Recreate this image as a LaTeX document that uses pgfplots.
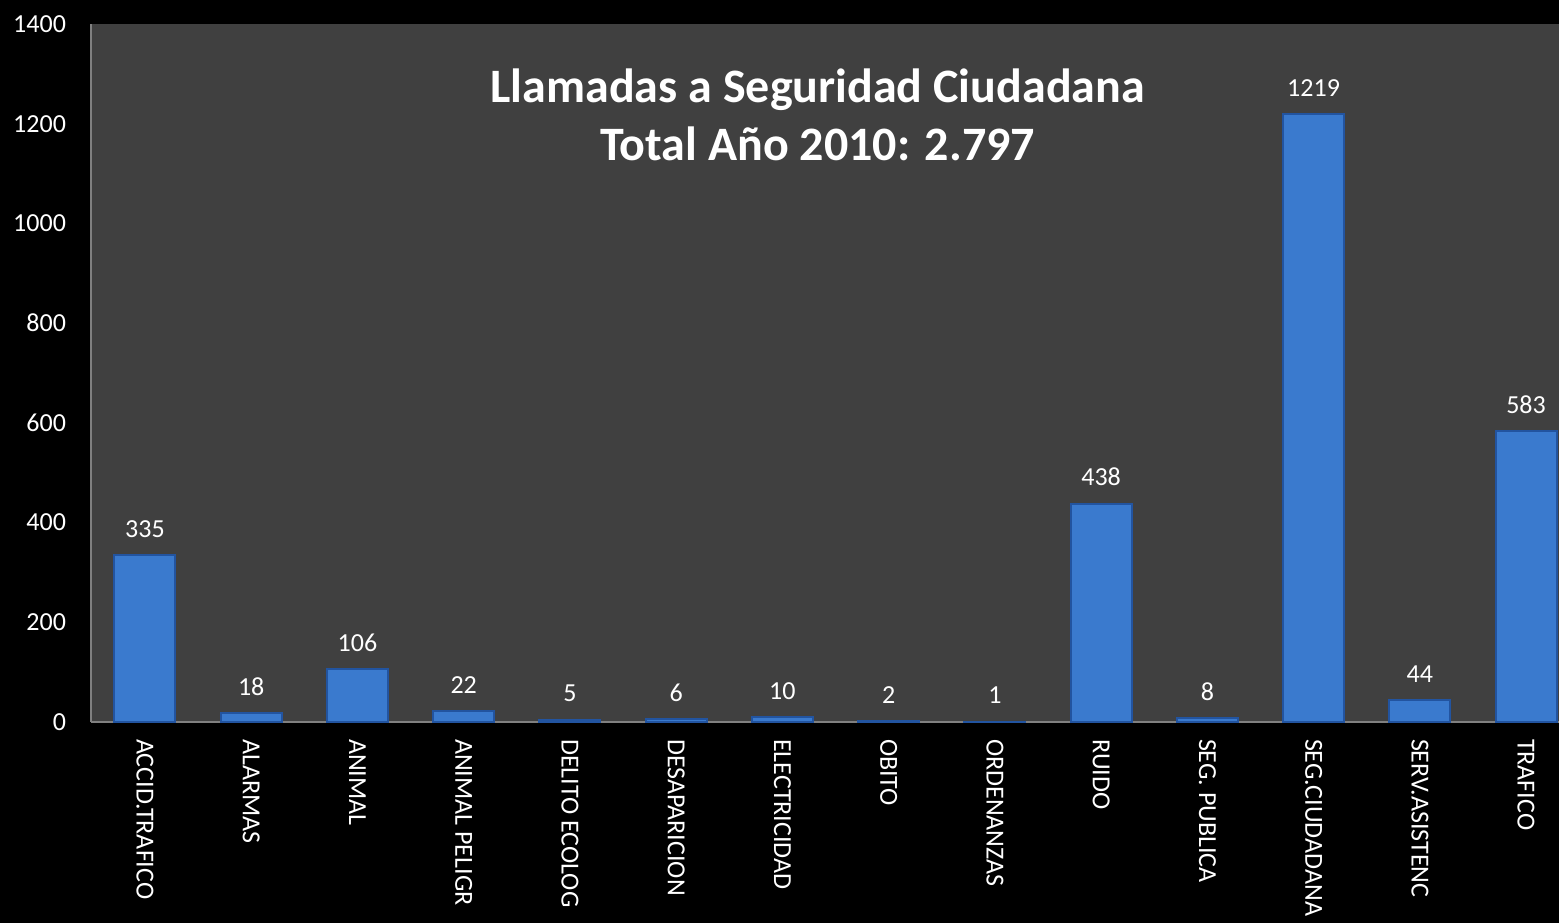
\documentclass[border=0pt]{standalone}
\usepackage{pgfplots}
\pgfplotsset{compat=1.18}
\usepackage{fontspec}
\setmainfont{Carlito}
\definecolor{plotbg}{RGB}{64,64,64}
\definecolor{axgray}{RGB}{128,128,128}
\definecolor{barmid}{RGB}{58,122,206}
\definecolor{baredge}{RGB}{34,84,160}

\begin{document}
\begin{tikzpicture}
% black page behind everything (1px = 0.5bp)
\fill[black] (-45.5bp,-100.5bp) rectangle (734bp,361bp);
\begin{axis}[at={(0,0)},anchor=south west,
  scale only axis,width=734bp,height=349bp,
  ybar,bar width=30.5bp,
  xmin=-0.508,xmax=13.31,ymin=0,ymax=1400,
  ytick={0,200,...,1400},
  xtick={0,...,13},
  xticklabels={ACCID.TRAFICO,ALARMAS,ANIMAL,ANIMAL PELIGR,DELITO ECOLOG,DESAPARICION,ELECTRICIDAD,OBITO,ORDENANZAS,RUIDO,SEG. PUBLICA,SEG.CIUDADANA,SERV.ASISTENC,TRAFICO},
  axis x line*=bottom,axis y line*=left,
  axis line style={axgray,line width=1.2bp,-},
  axis background/.style={fill=plotbg},
  major tick length=0pt,
  tick label style={font=\fontsize{13bp}{15bp}\selectfont,color=white},
  yticklabel style={anchor=east},
  yticklabel shift=9bp,
  xticklabel style={rotate=-90,anchor=west},
  xticklabel shift=5bp,
  /pgf/number format/assume math mode=true,
  /pgf/number format/1000 sep={},
  nodes near coords,
  nodes near coords style={font=\fontsize{13bp}{15bp}\selectfont,color=white,yshift=5bp},
  clip=false]
\addplot[fill=barmid,draw=baredge,line width=1bp]
  coordinates {(0,335) (1,18) (2,106) (3,22) (4,5) (5,6) (6,10) (7,2) (8,1) (9,438) (10,8) (11,1219) (12,44) (13,583)};
\node[font=\bfseries\fontsize{24bp}{29bp}\selectfont,color=white,align=center]
  at (rel axis cs:0.495,0.87) {Llamadas a Seguridad Ciudadana\\Total Año 2010: 2.797};
\end{axis}
\pgfresetboundingbox
\path[use as bounding box] (-45.5bp,-100.5bp) rectangle (734bp,361bp);
\end{tikzpicture}
\end{document}
